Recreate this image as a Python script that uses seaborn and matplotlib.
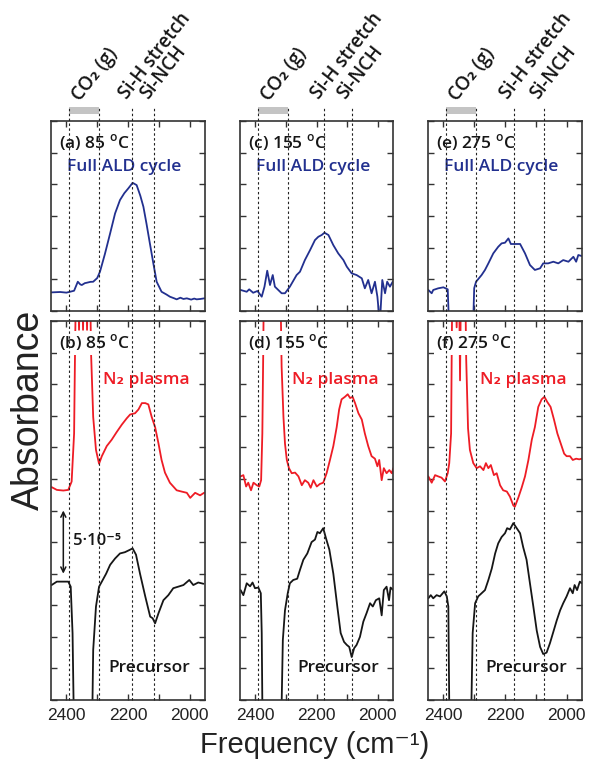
import numpy as np
import pandas as pd
import matplotlib
matplotlib.use("Agg")
import matplotlib.pyplot as plt
import seaborn as sns
from matplotlib.transforms import blended_transform_factory

# ---------------- spectra (absorbance in units of 1e-5) ----------------
# Full ALD cycle difference spectra
ald85_wn = [2448, 2420, 2400, 2388, 2375, 2363, 2355, 2350, 2340, 2334, 2322, 2313, 2300, 2291,
            2275, 2258, 2242, 2226, 2212, 2199, 2185, 2172, 2160, 2150, 2140, 2129, 2118, 2107,
            2091, 2075, 2064, 2050, 2042, 2030, 2020, 2009, 1995, 1985, 1977, 1965, 1952]
ald85_abs = [1.47, 1.5, 1.45, 1.52, 1.6, 2.31, 2.1, 2.05, 2.2, 2.23, 2.3, 2.31, 2.6, 3.1,
             4.5, 6.13, 7.7, 8.76, 9.3, 9.68, 10.12, 9.94, 9.1, 8.23, 6.9, 5.34, 3.8, 2.31,
             1.52, 1.3, 1.13, 1.0, 0.92, 1.05, 0.95, 1.0, 0.9, 0.98, 0.92, 0.95, 1.0]

ald155_wn = [2448, 2428, 2420, 2407, 2393, 2379, 2370, 2361, 2352, 2343, 2336, 2325, 2314, 2303,
             2287, 2265, 2254, 2238, 2221, 2205, 2194, 2183, 2174, 2161, 2145, 2129, 2112, 2101,
             2085, 2069, 2052, 2042, 2031, 2020, 2009, 2001, 1993, 1985, 1976, 1969, 1960, 1951]
ald155_abs = [1.66, 1.52, 1.71, 1.44, 1.58, 1.13, 1.92, 3.18, 2.05, 2.84, 1.92, 1.66, 1.40, 1.40,
              1.92, 2.84, 3.1, 4.02, 4.81, 5.6, 5.86, 6.0, 6.18, 6.0, 5.2, 4.55, 4.02, 3.5,
              2.97, 2.84, 2.58, 1.79, 2.45, 1.40, 2.31, 1.13, -1.0, 2.45, 1.40, 2.31, 1.92, 2.31]

ald275_wn = [2449, 2438, 2433, 2417, 2400, 2386, 2381, 2304, 2300, 2294, 2276, 2265, 2254, 2238,
             2222, 2211, 2200, 2189, 2181, 2168, 2151, 2135, 2119, 2103, 2086, 2076, 2060, 2043,
             2027, 2011, 1994, 1978, 1969, 1962, 1951]
ald275_abs = [1.66, 1.40, 1.66, 1.79, 1.87, 1.71, -1.5, -1.5, 1.8, 2.31, 2.84, 3.24, 3.76, 4.55,
              5.07, 5.34, 5.39, 5.73, 5.29, 5.29, 5.29, 4.55, 3.63, 3.24, 3.37, 3.76, 3.76, 3.89,
              3.76, 4.02, 3.89, 4.28, 3.89, 4.42, 4.34]

# N2 plasma half-cycle spectra
n2_85_wn = [2448, 2431, 2410, 2394, 2383, 2375, 2372, 2369, 2362, 2359, 2356, 2349, 2346, 2343,
            2336, 2333, 2330, 2323, 2320, 2313, 2304, 2294, 2285, 2269, 2253, 2237, 2220, 2204,
            2193, 2177, 2166, 2155, 2144, 2134, 2123, 2112, 2101, 2091, 2080, 2064, 2042, 2026,
            2009, 1998, 1982, 1966, 1953]
n2_85_abs = [16.85, 16.63, 16.58, 16.63, 17.29, 21.1, 27.5, 33, 33, 29.3, 33, 33, 29.3, 33,
             33, 29.3, 33, 33, 27.5, 22.4, 19.8, 18.7, 19.3, 20.1, 20.6, 21.2, 21.8, 22.3,
             22.6, 22.7, 23.0, 23.5, 23.5, 23.4, 22.4, 21.6, 20.3, 19.0, 18.0, 17.2, 16.6, 16.5,
             16.4, 16.0, 16.4, 16.2, 16.4]

n2_155_wn = [2448, 2439, 2430, 2423, 2414, 2406, 2395, 2387, 2381, 2377, 2374, 2372, 2318, 2314,
             2308, 2303, 2297, 2290, 2281, 2270, 2259, 2248, 2238, 2227, 2219, 2210, 2199, 2189,
             2178, 2167, 2156, 2145, 2134, 2126, 2118, 2107, 2098, 2090, 2082, 2074, 2063, 2052,
             2042, 2031, 2020, 2009, 2001, 1995, 1987, 1980, 1971, 1962, 1954, 1949]
n2_155_abs = [17.7, 17.8, 16.9, 17.2, 16.6, 17.2, 17.0, 16.9, 17.4, 21.1, 27.7, 33, 33, 26.4,
              22.4, 20.3, 19.0, 18.35, 17.95, 18.0, 17.7, 17.0, 17.4, 17.2, 16.8, 17.4, 16.9, 17.1,
              17.2, 17.95, 19.0, 20.1, 21.6, 23.0, 23.8, 24.0, 24.2, 23.9, 24.0, 23.5, 22.7, 22.2,
              21.1, 20.1, 19.3, 19.1, 18.5, 19.0, 17.4, 18.35, 17.95, 18.2, 17.95, 18.35]

n2_275_wn = [2449, 2438, 2427, 2417, 2406, 2395, 2386, 2381, 2375, 2373, 2371, 2360, 2357, 2354,
             2349, 2346, 2343, 2332, 2329, 2326, 2320, 2314, 2303, 2292, 2281, 2270, 2262, 2254,
             2246, 2236, 2227, 2216, 2206, 2194, 2184, 2173, 2168, 2157, 2146, 2135, 2124, 2113,
             2103, 2092, 2081, 2072, 2063, 2052, 2041, 2030, 2019, 2008, 2000, 1989, 1980, 1969,
             1959, 1951]
n2_275_abs = [17.7, 17.2, 17.8, 17.7, 17.6, 17.3, 17.95, 18.75, 21.1, 27.5, 33, 33, 29.5, 33,
              33, 25.3, 33, 33, 33, 27, 21.5, 19.8, 18.75, 18.35, 18.5, 18.2, 18.75, 18.35,
              18.6, 17.8, 17.95, 17.0, 16.6, 16.5, 16.1, 15.4, 15.3, 16.0, 16.8, 17.7, 19.0, 20.6,
              21.6, 23.2, 23.8, 24.0, 23.6, 23.2, 22.2, 21.1, 20.3, 19.5, 19.3, 19.3, 19.0, 19.1,
              19.05, 19.1]

# Precursor half-cycle spectra
pre85_wn = [2448, 2431, 2410, 2394, 2386, 2380, 2375, 2317, 2313, 2304, 2294, 2285, 2271, 2258,
            2242, 2226, 2210, 2193, 2185, 2174, 2161, 2144, 2128, 2120, 2112, 2101, 2085, 2069,
            2053, 2037, 2020, 2001, 1988, 1972, 1955]
pre85_abs = [9.1, 9.37, 9.37, 9.37, 8.97, 5.28, -3, -3, 3.96, 7.39, 8.97, 9.37, 10.0, 10.7,
             11.2, 11.6, 11.7, 11.9, 12.0, 11.5, 10.0, 8.2, 6.6, 6.47, 6.07, 6.87, 7.9, 8.3,
             8.85, 8.97, 9.1, 9.5, 9.1, 9.3, 9.2]

pre155_wn = [2448, 2439, 2428, 2417, 2409, 2401, 2390, 2382, 2379, 2376, 2316, 2310, 2303, 2294,
             2287, 2276, 2263, 2254, 2243, 2230, 2216, 2205, 2197, 2189, 2178, 2169, 2158, 2145,
             2132, 2121, 2110, 2101, 2093, 2085, 2077, 2069, 2058, 2047, 2036, 2025, 2016, 2006,
             1995, 1987, 1980, 1971, 1963, 1958, 1949]
pre155_abs = [8.7, 8.3, 9.24, 9.0, 9.3, 8.85, 8.9, 8.45, 5.3, -3, -3, 4.75, 7.1, 8.45,
              9.24, 9.5, 9.6, 10.3, 11.1, 11.6, 12.5, 12.7, 13.3, 13.2, 13.6, 12.8, 11.9, 10.0,
              7.4, 5.3, 4.6, 4.36, 4.2, 3.4, 4.1, 4.36, 5.0, 6.2, 6.9, 7.66, 7.4, 7.9,
              8.05, 6.7, 8.7, 8.97, 7.9, 8.9, 8.7]

pre275_wn = [2449, 2441, 2433, 2422, 2411, 2397, 2389, 2384, 2380, 2311, 2305, 2297, 2287, 2276,
             2265, 2254, 2243, 2232, 2222, 2211, 2200, 2193, 2184, 2173, 2162, 2151, 2141, 2130,
             2119, 2108, 2097, 2086, 2076, 2065, 2054, 2043, 2032, 2021, 2011, 2000, 1989, 1980,
             1974, 1966, 1957, 1951]
pre275_abs = [8.05, 8.3, 8.05, 8.3, 8.2, 8.6, 8.2, 7.4, -3, -3, 5.3, 7.66, 8.2, 8.45,
              8.7, 9.5, 10.4, 11.6, 12.4, 12.9, 13.2, 13.6, 13.5, 14.0, 13.6, 13.2, 12.1, 11.1,
              9.24, 7.4, 5.5, 4.2, 3.64, 3.75, 4.5, 5.4, 6.3, 7.1, 7.66, 8.2, 8.85, 8.45,
              9.1, 8.7, 9.37, 9.24]

# ---------------- labels and reference lines ----------------
temperatures = ["85", "155", "275"]
top_letters = ["a", "c", "e"]
bottom_letters = ["b", "d", "f"]
co2_band = (2392, 2293)
sih_lines = [2186, 2175, 2172]
sinch_lines = [2115, 2085, 2072]
xtick_values = [2400, 2300, 2200, 2100, 2000]
xtick_labels = ["2400", "", "2200", "", "2000"]
scale_bar = (10.0, 15.0)       # 5e-5 expressed in units of 1e-5

BLUE = "#22308f"
RED = "#ee1c25"
BLACK = "#161616"
FRAME = "#333333"

sns.set_theme(style="ticks")
plt.rcParams["font.family"] = ["Liberation Sans", "DejaVu Sans"]
LABEL_FONT = ["Open Sans", "DejaVu Sans"]
AXIS_FONT = ["Liberation Sans", "DejaVu Sans"]
DEG = r"$^{\mathregular{o}}$"

W, H = 590, 763
fig = plt.figure(figsize=(W / 100, H / 100), dpi=100)


def add_ax(left, top, width, height):
    return fig.add_axes([left / W, 1 - (top + height) / H, width / W, height / H])


def draw_curve(ax, wn, ab, color):
    df = pd.DataFrame({"wavenumber": wn, "absorbance": ab})
    sns.lineplot(data=df, x="wavenumber", y="absorbance", ax=ax, color=color,
                 lw=1.3, sort=False, estimator=None, zorder=2)


def style_axes(ax, ymax, with_labels):
    ax.set_xlim(2450, 1950)
    ax.set_ylim(0, ymax)
    ax.set_xticks(xtick_values)
    ax.set_xticklabels(xtick_labels if with_labels else [""] * len(xtick_values))
    ax.set_yticks(np.arange(0, ymax + 0.01, 2.5))
    ax.set_yticklabels([])
    ax.tick_params(direction="in", length=4.5, width=1.0, color=FRAME,
                   top=True, right=True, pad=6, labelsize=12.5, labelcolor="#222222")
    for lab in ax.get_xticklabels():
        lab.set_family(AXIS_FONT)
    for s in ax.spines.values():
        s.set_linewidth(1.2)
        s.set_color(FRAME)
        s.set_zorder(5)
    ax.set_xlabel("")
    ax.set_ylabel("")


def dashed(ax, positions, ymin, ymax):
    for p in positions:
        ax.axvline(p, ymin=ymin, ymax=ymax, color="#222222", lw=0.8,
                   ls=(0, (2.2, 2.2)), clip_on=False, zorder=6)


def band_label(ax, x, y, text):
    tr = blended_transform_factory(ax.transData, ax.transAxes)
    ax.text(x, y, text, transform=tr, rotation=52, rotation_mode="anchor",
            ha="left", va="bottom", fontsize=13.5, family=LABEL_FONT,
            fontweight="semibold", color=BLACK)


columns = [(51, 154), (240, 153), (428, 154)]
top_y, top_h = 121, 190
bot_y, bot_h = 321, 379

ald_data = [(ald85_wn, ald85_abs), (ald155_wn, ald155_abs), (ald275_wn, ald275_abs)]
n2_data = [(n2_85_wn, n2_85_abs), (n2_155_wn, n2_155_abs), (n2_275_wn, n2_275_abs)]
pre_data = [(pre85_wn, pre85_abs), (pre155_wn, pre155_abs), (pre275_wn, pre275_abs)]

for i, (left, width) in enumerate(columns):
    lines = [co2_band[0], co2_band[1], sih_lines[i], sinch_lines[i]]

    # ---- full ALD cycle panel ----
    ax = add_ax(left, top_y, width, top_h)
    draw_curve(ax, *ald_data[i], BLUE)
    style_axes(ax, 15, False)
    dashed(ax, lines, -10 / top_h, 1 + 14 / top_h)
    ax.axvspan(co2_band[0], co2_band[1], ymin=1 + 6.7 / top_h, ymax=1 + 14.3 / top_h,
               color="#c4c4c4", lw=0, clip_on=False, zorder=4)
    band_label(ax, (co2_band[0] + co2_band[1]) / 2, 1 + 16 / top_h, "CO\u2082 (g)")
    band_label(ax, sih_lines[i] + 4, 1 + 18 / top_h, "Si-H stretch")
    band_label(ax, sinch_lines[i] + 8, 1 + 18 / top_h, "Si-NCH")
    ax.text(0.05, 0.886, f"({top_letters[i]}) {temperatures[i]} {DEG}C", transform=ax.transAxes,
            ha="left", va="center", fontsize=12.5, family=LABEL_FONT,
            fontweight="semibold", color=BLACK, zorder=4)
    ax.text(0.105, 0.76, "Full ALD cycle", transform=ax.transAxes,
            ha="left", va="center", fontsize=12.5, family=LABEL_FONT,
            fontweight="semibold", color=BLUE, zorder=4)

    # ---- half-cycle panel: N2 plasma and precursor ----
    ax = add_ax(left, bot_y, width, bot_h)
    draw_curve(ax, *n2_data[i], RED)
    draw_curve(ax, *pre_data[i], BLACK)
    style_axes(ax, 30, True)
    dashed(ax, lines, 0, 1)
    ax.text(0.055, 0.942, f"({bottom_letters[i]}) {temperatures[i]} {DEG}C",
            transform=ax.transAxes, ha="left", va="center", fontsize=12.5,
            family=LABEL_FONT, fontweight="semibold", color=BLACK, zorder=4,
            bbox=dict(facecolor="white", edgecolor="none", pad=1.5))
    ax.text(0.34, 0.844, "N\u2082 plasma", transform=ax.transAxes,
            ha="left", va="center", fontsize=12.5, family=LABEL_FONT,
            fontweight="semibold", color=RED, zorder=4)
    ax.text(0.375, 0.084, "Precursor", transform=ax.transAxes,
            ha="left", va="center", fontsize=12.5, family=LABEL_FONT,
            fontweight="semibold", color=BLACK, zorder=4)

    if i == 0:
        ax.annotate("", xy=(2410, scale_bar[0]), xytext=(2410, scale_bar[1]),
                    arrowprops=dict(arrowstyle="<->", color=BLACK, lw=1.1,
                                    shrinkA=0, shrinkB=0, mutation_scale=9))
        ax.text(2378, (scale_bar[0] + scale_bar[1]) / 2 + 0.1, "5\u00b710\u207b\u2075",
                ha="left", va="center", fontsize=12, family=LABEL_FONT,
                fontweight="semibold", color=BLACK)

fig.text(0.049, 0.463, "Absorbance", rotation=90, ha="center", va="center",
         fontsize=27, family=AXIS_FONT, color="#222222")
fig.text(0.534, 0.024, "Frequency (cm\u207b\u00b9)", ha="center", va="center",
         fontsize=21, family=AXIS_FONT, color="#222222")

fig.savefig("out.png", dpi=100)
